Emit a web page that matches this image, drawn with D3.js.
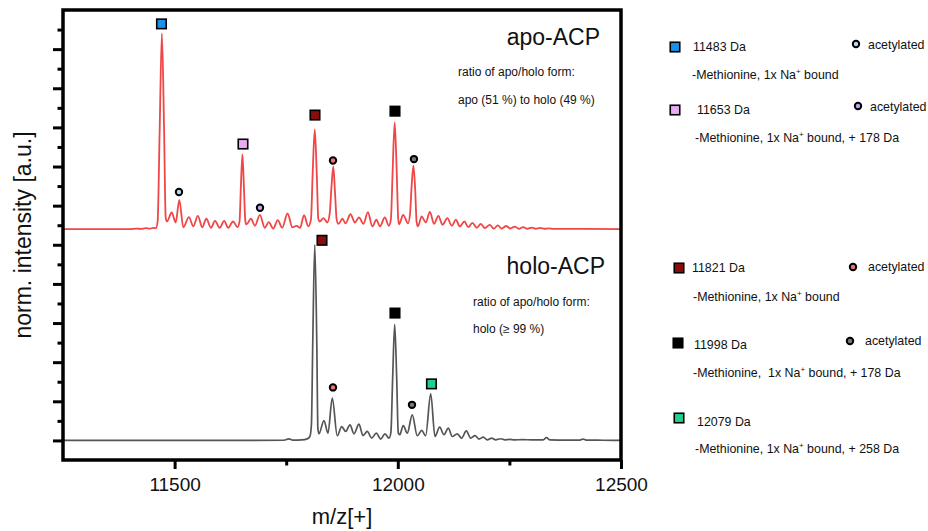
<!DOCTYPE html>
<html>
<head>
<meta charset="utf-8">
<script src="https://cdn.jsdelivr.net/npm/d3@7"></script>
<style>
  body { margin: 0; background: #fff; }
  svg text { font-family: "Liberation Sans", Arial, sans-serif; fill: #111; }
  .pre { white-space: pre; }
</style>
</head>
<body>
<svg id="chart" width="928" height="531"></svg>
<script>
// ---- spectra: [m/z, intensity in % of the base peak] ----
const apoSpectrum = [
  [11250,0],[11400,0],[11415,0.3],[11425,0.1],[11435,0.5],[11445,0.3],[11452,0.6],[11458,0.5],
  [11462,4],[11466.5,50],[11471.5,100],[11476.5,50],[11480,6],[11483,3.9],[11493.5,8.5],[11502.5,3.4],
  [11510.5,15],[11519.5,0.9],[11532,6.1],[11542,1.4],[11552,6.8],[11562,0.9],[11571,5.3],[11581.5,0.7],
  [11590.5,4.2],[11601,0.7],[11611,4.2],[11620,0.7],[11631,3.9],[11641,1.0],[11645.5,4],[11648.5,22],
  [11652,38.2],[11655.5,20],[11658.5,4],[11661,2.4],[11671,5.3],[11680,1.7],[11691,7.3],[11702,0.7],
  [11711,3.6],[11721,0.3],[11731,4.6],[11741,0.7],[11753,8.0],[11764,0.9],[11773.5,1.7],[11781,0.6],
  [11790,7.1],[11799.5,1.4],[11805.5,5],[11809.5,30],[11814,51],[11818.5,28],[11822,5],[11825,3.9],
  [11833.5,5.6],[11842,3.4],[11847.5,8],[11851.5,22],[11855.5,32],[11859.5,18],[11863,5],[11867,2.7],
  [11876,5.3],[11883,3],[11894,7.6],[11904,3.4],[11913,6],[11923,2.7],[11933,8.7],[11943,1.4],
  [11952,4.8],[11960,1.4],[11971,6],[11980,1.7],[11984.5,5],[11988.5,30],[11993,54.6],[11997.5,30],
  [12001,5],[12003,2.5],[12012,7.3],[12023,3],[12027.5,8],[12031,22],[12035,32.5],[12039,20],
  [12042,4],[12045,1.4],[12053.5,6.5],[12062.5,3.4],[12072,8.8],[12081,2.7],[12091,6.8],[12100,2.2],
  [12111,5.6],[12121,1.7],[12130,4.8],[12139,1.4],[12149,3.9],[12158,1.0],[12167,3.2],[12177,0.7],
  [12186,2.7],[12195,0.5],[12206,2.2],[12215,0.3],[12224,1.9],[12233,0.3],[12243,1.6],[12252,0.3],
  [12262,1.3],[12271,0.2],[12281,1.0],[12290,0.2],[12300,0.8],[12309,0.2],[12319,0.6],[12329,0.2],
  [12338,0.4],[12349,0.1],[12361,0.1],[12420,0.1],[12500,0]
];

const holoSpectrum = [
  [11250,0],[11600,0],[11745,0.1],[11756,0.8],[11765,0.2],[11785,0.3],[11797,0.8],[11803,2],
  [11806.5,8],[11809.5,50],[11814,100],[11818.5,50],[11821,6],[11823.4,3.4],[11834.6,10.2],[11843.6,3.7],
  [11853.2,21.6],[11864.4,2.4],[11874.3,7.1],[11883.2,4.6],[11892.9,8],[11901.8,3.4],[11913,8.3],[11922,2.5],
  [11931.6,4.6],[11941.5,1.2],[11951.8,3.7],[11961.7,0.7],[11971.3,3.4],[11980.2,1.2],[11984.5,4],[11988.5,32],
  [11993,59.3],[11997.5,32],[12001,4],[12004.2,2.9],[12012.3,7.6],[12021.2,3.7],[12032.4,13.1],[12043.6,2.4],
  [12053.5,5.1],[12062.4,2.4],[12073.7,23.8],[12083.3,2],[12093.8,6.8],[12103.4,2.9],[12113.1,6.3],[12122,2],
  [12133.2,3.4],[12143.1,1.2],[12153.4,4.9],[12163.2,1.2],[12172.9,2.5],[12181.8,0.7],[12191.5,1.7],[12200.4,0.3],
  [12210.3,1.2],[12219.2,0.3],[12230.4,0.85],[12240,0.3],[12250,0.5],[12262,0.3],[12280,0.4],[12300,0.3],
  [12325,0.3],[12333,1.4],[12341,0.3],[12380,0.2],[12408,0.2],[12415,0.7],[12422,0.2],[12460,0.1],[12500,0]
];

// ---- peak annotations: species id, kind, m/z, level (% of base peak) ----
const apoMarkers = [
  ["11483","species",11470.6,104.9],["11483","acetyl",11509.8,19.0],
  ["11653","species",11653.2,43.5],["11653","acetyl",11691.3,10.9],
  ["11821","species",11814.5,58.3],["11821","acetyl",11854.8,35.1],
  ["11998","species",11993.7,60.3],["11998","acetyl",12036.2,35.8]
];
const holoMarkers = [
  ["11821","species",11830.2,102.3],["11821","acetyl",11854.8,27.1],
  ["11998","species",11993.7,65.1],["11998","acetyl",12031.8,18.2],
  ["12079","species",12075.4,28.9]
];

// ---- axis ticks ----
const xMajorTicks = [11500, 12000, 12500];
const xMinorTicks = [11750, 12250];
const yMajorTicks = d3.range(0, 11, 1);
const yMinorTicks = d3.range(0.5, 11, 1);

// ---- texts ----
const speciesIds = ["11483","11653","11821","11998","12079"];
const speciesMass = ["11483 Da","11653 Da","11821 Da","11998 Da","12079 Da"];
const speciesNoteTail = [" bound", " bound, + 178 Da", " bound", " bound, + 178 Da", " bound, + 258 Da"];
const speciesNoteHead = ["-Methionine, 1x Na","-Methionine, 1x Na","-Methionine, 1x Na","-Methionine,  1x Na","-Methionine, 1x Na"];
const speciesAcetylated = [true, true, true, true, false];

const speciesFill = {"11483":"#1b90e6","11653":"#e8aaf2","11821":"#8a0c0c","11998":"#000000","12079":"#22cf8c"};
const acetylFill  = {"11483":"#b2d9ee","11653":"#c6a3e8","11821":"#f07272","11998":"#7a7a7a"};

const svg = d3.select("#chart");

const x = d3.scaleLinear().domain([11250, 12500]).range([63, 621]);
const y = d3.scaleLinear().domain([-0.5, 11]).range([460, 10]);

// each trace spans 5 axis units at 100 %; the apo trace is stacked above the holo one
const UNITS_PER_100 = 5;
const APO_OFFSET = 5.4;
const level = (pct, off) => off + pct / 100 * UNITS_PER_100;

const line = off => d3.line()
  .x(d => x(d[0]))
  .y(d => y(level(d[1], off)))
  .curve(d3.curveMonotoneX);

svg.append("path").datum(holoSpectrum)
  .attr("d", line(0)).attr("fill", "none")
  .attr("stroke", "#555").attr("stroke-width", 1.7)
  .attr("stroke-linejoin", "round");

svg.append("path").datum(apoSpectrum)
  .attr("d", line(APO_OFFSET)).attr("fill", "none")
  .attr("stroke", "#f04646").attr("stroke-width", 1.8)
  .attr("stroke-linejoin", "round");

// axes
function styleAxis(g) {
  g.select(".domain").remove();
  g.selectAll(".tick line").attr("stroke", "#000").attr("stroke-width", 3);
}
svg.append("g").attr("transform", "translate(63,0)")
  .call(d3.axisLeft(y).tickValues(yMajorTicks).tickSize(10).tickFormat(""))
  .call(styleAxis);
svg.append("g").attr("transform", "translate(63,0)")
  .call(d3.axisLeft(y).tickValues(yMinorTicks).tickSize(5.5).tickFormat(""))
  .call(styleAxis);

const xAxisG = svg.append("g").attr("transform", "translate(0,460)")
  .call(d3.axisBottom(x).tickValues(xMajorTicks).tickSize(9).tickPadding(9).tickFormat(d3.format("d")))
  .call(styleAxis);
xAxisG.selectAll(".tick text").attr("font-size", 19).attr("fill", "#111")
  .style("font-family", '"Liberation Sans", Arial, sans-serif');
svg.append("g").attr("transform", "translate(0,460)")
  .call(d3.axisBottom(x).tickValues(xMinorTicks).tickSize(5.5).tickFormat(""))
  .call(styleAxis);

// frame
svg.append("rect")
  .attr("x", x.range()[0]).attr("y", y.range()[1])
  .attr("width", x.range()[1] - x.range()[0]).attr("height", y.range()[0] - y.range()[1])
  .attr("fill", "none").attr("stroke", "#000").attr("stroke-width", 3.5);

// axis titles
svg.append("text").attr("x", 342).attr("y", 524).attr("text-anchor", "middle")
  .attr("font-size", 22).text("m/z[+]");
svg.append("text").attr("transform", "translate(31,235) rotate(-90)")
  .attr("text-anchor", "middle").attr("font-size", 23).text("norm. intensity [a.u.]");

// peak markers
function drawMarkers(list, off) {
  const g = svg.append("g");
  list.forEach(([id, kind, mz, pct]) => {
    const cx = x(mz), cy = y(level(pct, off));
    if (kind === "species") {
      g.append("rect").attr("x", cx - 4.75).attr("y", cy - 4.75)
        .attr("width", 9.5).attr("height", 9.5)
        .attr("fill", speciesFill[id]).attr("stroke", "#000").attr("stroke-width", 1.6);
    } else {
      g.append("circle").attr("cx", cx).attr("cy", cy).attr("r", 3.2)
        .attr("fill", acetylFill[id]).attr("stroke", "#000").attr("stroke-width", 2);
    }
  });
}
drawMarkers(apoMarkers, APO_OFFSET);
drawMarkers(holoMarkers, 0);

// panel titles and ratio notes
const notes = svg.append("g");
notes.append("text").attr("x", 600).attr("y", 45).attr("text-anchor", "end")
  .attr("font-size", 23).text("apo-ACP");
notes.append("text").attr("x", 458).attr("y", 76).attr("font-size", 12).text("ratio of apo/holo form:");
notes.append("text").attr("x", 458).attr("y", 104).attr("font-size", 12).text("apo (51 %) to holo (49 %)");
notes.append("text").attr("x", 605).attr("y", 274).attr("text-anchor", "end")
  .attr("font-size", 23).text("holo-ACP");
notes.append("text").attr("x", 473).attr("y", 306).attr("font-size", 12).text("ratio of apo/holo form:");
notes.append("text").attr("x", 473).attr("y", 333).attr("font-size", 12).text("holo (\u2265 99 %)");

// legend
const legendRows = [
  {sq:[675,47], mass:[693,51], dot:[856,44], acet:[868,49], note:[692,79]},
  {sq:[675,110], mass:[697,114], dot:[858,106], acet:[870,111], note:[695,142]},
  {sq:[679,268], mass:[692,272], dot:[853,267], acet:[868,271], note:[693,301]},
  {sq:[678,343], mass:[694,349], dot:[850,341], acet:[865,345], note:[693,377]},
  {sq:[679,418], mass:[697,426], dot:null, acet:null, note:[695,453]}
];
const legend = svg.append("g").attr("font-size", 12.4);
speciesIds.forEach((id, i) => {
  const L = legendRows[i];
  legend.append("rect").attr("x", L.sq[0] - 4.75).attr("y", L.sq[1] - 4.75)
    .attr("width", 9.5).attr("height", 9.5)
    .attr("fill", speciesFill[id]).attr("stroke", "#000").attr("stroke-width", 1.6);
  legend.append("text").attr("x", L.mass[0]).attr("y", L.mass[1]).text(speciesMass[i]);
  if (speciesAcetylated[i]) {
    legend.append("circle").attr("cx", L.dot[0]).attr("cy", L.dot[1]).attr("r", 3.2)
      .attr("fill", acetylFill[id]).attr("stroke", "#000").attr("stroke-width", 2);
    legend.append("text").attr("x", L.acet[0]).attr("y", L.acet[1]).text("acetylated");
  }
  const t = legend.append("text").attr("class", "pre").attr("x", L.note[0]).attr("y", L.note[1]);
  t.append("tspan").text(speciesNoteHead[i]);
  t.append("tspan").attr("dy", -5).attr("font-size", 8).text("+");
  t.append("tspan").attr("dy", 5).text(speciesNoteTail[i]);
});
</script>
</body>
</html>
